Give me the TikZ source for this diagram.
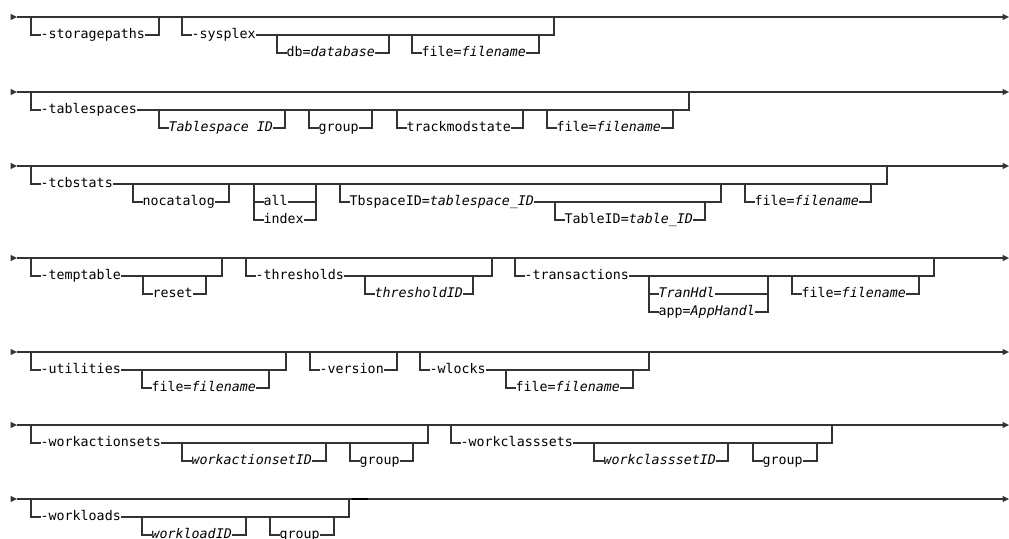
\documentclass[tikz,border=0pt]{standalone}
\usepackage{fontspec}
\setmonofont{DejaVu Sans Mono}
\definecolor{railc}{HTML}{333333}
\newcommand\lblfont{\ttfamily\fontsize{13.3}{15}\selectfont}
\newcommand\optb[4]{\draw[rail] (#1,#3) |- (#2,#4) -- (#2,#3);}
\newcommand\lab[4]{\node[lbl] (#1) at (#2,#3+3.8) {#4};}
\newcommand\mainrow[1]{%
  \fill[railc] (10.5,#1-3.2) -- (17,#1) -- (10.5,#1+3.2) -- cycle;
  \draw[rail] (17,#1) -- (1003,#1);
  \fill[railc] (1002.5,#1-3.2) -- (1009,#1) -- (1002.5,#1+3.2) -- cycle;}
\tikzset{
  rail/.style={draw=railc, line width=1.2pt},
  lbl/.style={font=\lblfont, fill=white, inner xsep=0pt, inner ysep=1pt, anchor=base west, text=black},
}
\begin{document}
\begin{tikzpicture}[x=1pt,y=-1pt]
\useasboundingbox (0,0) rectangle (1009,538);
\fill[white] (0,0) rectangle (1009,538);
\clip (0,0) rectangle (1009,538);
% ---------- row 1
\mainrow{17}
\optb{31}{159}{17}{35}
\optb{182}{554}{17}{35}
\optb{277}{389}{35}{53}
\optb{412}{539}{35}{53}
\lab{storagepaths}{40.5}{35}{-storagepaths}
\lab{sysplex}{191.5}{35}{-sysplex}
\lab{db}{286.5}{53}{db=\textit{database}}
\lab{fileA}{421.5}{53}{file=\textit{filename}}
% ---------- row 2
\mainrow{92}
\optb{31}{689}{92}{110}
\optb{159}{285}{110}{128}
\optb{309}{372}{110}{128}
\optb{397}{523}{110}{128}
\optb{547}{673}{110}{128}
\lab{tablespaces}{40.5}{110}{-tablespaces}
\lab{tsid}{168.5}{128}{\textit{Tablespace ID}}
\lab{groupA}{318.5}{128}{group}
\lab{track}{406.5}{128}{trackmodstate}
\lab{fileB}{556.5}{128}{file=\textit{filename}}
% ---------- row 3
\mainrow{166}
\optb{31}{887}{166}{184}
\optb{133}{229}{184}{202}
\draw[rail] (254,184) |- (316,220) -- (316,184);
\draw[rail] (254,202) -- (316,202);
\optb{340}{721}{184}{202}
\optb{555}{705}{202}{220}
\optb{745}{871}{184}{202}
\lab{tcbstats}{40.5}{184}{-tcbstats}
\lab{nocat}{142.5}{202}{nocatalog}
\lab{all}{263.5}{202}{all}
\lab{index}{263.5}{220}{index}
\lab{tbsp}{349.5}{202}{TbspaceID=\textit{tablespace\_ID}}
\lab{tabid}{564.5}{220}{TableID=\textit{table\_ID}}
\lab{fileC}{754.5}{202}{file=\textit{filename}}
% ---------- row 4
\mainrow{258}
\optb{31}{222}{258}{276}
\optb{143}{206}{276}{294}
\optb{246}{492}{258}{276}
\optb{365}{473}{276}{294}
\optb{515}{934}{258}{276}
\draw[rail] (649,276) |- (768,312) -- (768,276);
\draw[rail] (649,294) -- (768,294);
\optb{792}{919}{276}{294}
\lab{temptable}{40.5}{276}{-temptable}
\lab{reset}{152.5}{294}{reset}
\lab{thresholds}{255.5}{276}{-thresholds}
\lab{thid}{374.5}{294}{\textit{thresholdID}}
\lab{transactions}{524.5}{276}{-transactions}
\lab{tranhdl}{658.5}{294}{\textit{TranHdl}}
\lab{app}{658.5}{312}{app=\textit{AppHandl}}
\lab{fileD}{801.5}{294}{file=\textit{filename}}
% ---------- row 5
\mainrow{352}
\optb{31}{286}{352}{370}
\optb{142}{269}{370}{388}
\optb{310}{397}{352}{370}
\optb{420}{649}{352}{370}
\optb{506}{633}{370}{388}
\lab{utilities}{40.5}{370}{-utilities}
\lab{fileE}{151.5}{388}{file=\textit{filename}}
\lab{version}{319.5}{370}{-version}
\lab{wlocks}{429.5}{370}{-wlocks}
\lab{fileF}{515.5}{388}{file=\textit{filename}}
% ---------- row 6
\mainrow{425}
\optb{31}{428}{425}{443}
\optb{182}{326}{443}{461}
\optb{350}{413}{443}{461}
\optb{451}{832}{425}{443}
\optb{594}{728}{443}{461}
\optb{753}{817}{443}{461}
\lab{workactionsets}{40.5}{443}{-workactionsets}
\lab{waid}{191.5}{461}{\textit{workactionsetID}}
\lab{groupB}{359.5}{461}{group}
\lab{workclasssets}{460.5}{443}{-workclasssets}
\lab{wcid}{603.5}{461}{\textit{workclasssetID}}
\lab{groupC}{762.5}{461}{group}
% ---------- row 7
\mainrow{499}
\optb{31}{349}{499}{517}
\optb{142}{246}{517}{535}
\optb{270}{334}{517}{535}
\draw[black, line width=2.2pt] (352,499) -- (368,499);
\lab{workloads}{40.5}{517}{-workloads}
\lab{wlid}{151.5}{535}{\textit{workloadID}}
\lab{groupD}{279.5}{535}{group}
\end{tikzpicture}
\end{document}
